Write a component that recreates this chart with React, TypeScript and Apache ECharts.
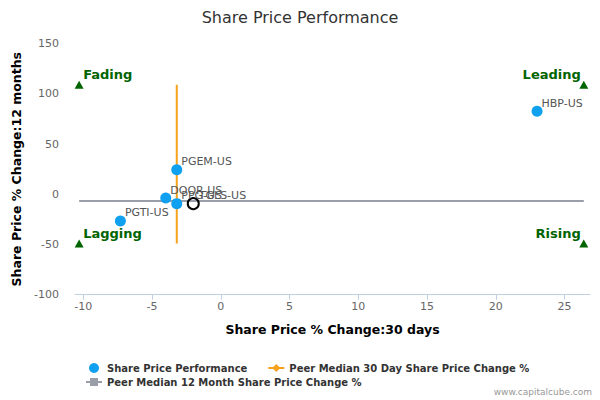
import { useEffect, useRef } from "react";
import * as echarts from "echarts";

// share price change, peers
const tickers = ["HBP-US", "PGEM-US", "DOOR-US", "PPG-US", "PGTI-US"];
const change30d = [23.0, -3.2, -4.0, -3.2, -7.3];
const change12m = [82.7, 24.5, -3.7, -9.3, -26.5];

// subject company (hollow marker)
const subjectTicker = "TGLS-US";
const subject30d = -2.0;
const subject12m = -9.3;

// peer medians
const median30d = -3.2;
const median30dSpan = [-49, 109];
const median12m = -6.6;
const median12mSpan = [-10.3, 26.4];

// quadrant markers
const quadrantNames = ["Fading", "Leading", "Lagging", "Rising"];
const quadrantX = [-10.3, 26.4, -10.3, 26.4];
const quadrantY = [109, 109, -49, -49];

const xTicks = [-10, -5, 0, 5, 10, 15, 20, 25];

const BLUE = "#0fa0ef";
const ORANGE = "#f7a21c";
const GRAY = "#9a9ea9";
const GREEN = "#006400";
const FONT = "DejaVu Sans";

export default function App() {
  const chartRef = useRef<HTMLDivElement>(null);

  useEffect(() => {
    if (!chartRef.current) return;
    const chart = echarts.init(chartRef.current, null, { renderer: "svg" });

    const pointLabel = {
      show: true,
      position: "right",
      offset: [-6, -8],
      fontSize: 11,
      color: "#555",
      fontFamily: FONT,
      formatter: (p: { name: string }) => p.name,
    };

    const legendText = { fontSize: 10, fontWeight: "bold", color: "#333", fontFamily: FONT };

    chart.setOption({
      animation: false,
      backgroundColor: "#fff",
      textStyle: { fontFamily: FONT },
      title: {
        text: "Share Price Performance",
        left: "center",
        top: 4,
        textStyle: { fontSize: 16, fontWeight: "normal", color: "#333", fontFamily: FONT },
      },
      grid: { left: 75, right: 10, top: 43.7, bottom: 105.3 },
      xAxis: {
        type: "value",
        min: -10.6,
        max: 26.85,
        name: "Share Price % Change:30 days",
        nameLocation: "middle",
        nameGap: 28,
        nameTextStyle: { fontSize: 12.5, fontWeight: "bold", color: "#000", fontFamily: FONT },
        axisLine: { show: true, onZero: false, lineStyle: { color: "#c0d0e0", width: 1 } },
        axisTick: { show: true, length: 5, customValues: xTicks, lineStyle: { color: "#c0d0e0" } },
        axisLabel: { customValues: xTicks, fontSize: 11, color: "#666", margin: 6, fontFamily: FONT },
        splitLine: { show: false },
      },
      yAxis: {
        type: "value",
        min: -100,
        max: 150,
        interval: 50,
        name: "Share Price % Change:12 months",
        nameLocation: "middle",
        nameGap: 43,
        nameTextStyle: { fontSize: 12.5, fontWeight: "bold", color: "#000", fontFamily: FONT },
        axisLine: { show: false },
        axisTick: { show: false },
        axisLabel: { fontSize: 11, color: "#666", margin: 16, fontFamily: FONT },
        splitLine: { show: false },
      },
      legend: [
        {
          data: ["Share Price Performance", "Peer Median 30 Day Share Price Change %"],
          left: 84,
          top: 358,
          itemWidth: 16,
          itemHeight: 10,
          itemGap: 20,
          textStyle: legendText,
        },
        {
          data: ["Peer Median 12 Month Share Price Change %"],
          left: 80,
          top: 372,
          itemWidth: 16,
          itemHeight: 10,
          textStyle: legendText,
        },
      ],
      graphic: [
        {
          type: "text",
          right: 8,
          bottom: 4,
          style: { text: "www.capitalcube.com", fontSize: 9, fill: "#999", fontFamily: FONT },
        },
      ],
      series: [
        {
          name: "Peer Median 12 Month Share Price Change %",
          type: "line",
          data: median12mSpan.map((x) => [x, median12m]),
          showSymbol: false,
          symbol: "rect",
          color: GRAY,
          lineStyle: { color: GRAY, width: 2 },
          z: 2,
        },
        {
          name: "Peer Median 30 Day Share Price Change %",
          type: "line",
          data: median30dSpan.map((y) => [median30d, y]),
          showSymbol: false,
          symbol: "diamond",
          color: ORANGE,
          lineStyle: { color: ORANGE, width: 2 },
          z: 3,
        },
        {
          name: "Share Price Performance",
          type: "scatter",
          symbol: "circle",
          symbolSize: 11,
          itemStyle: { color: BLUE, opacity: 1 },
          z: 5,
          label: pointLabel,
          data: [
            ...tickers.map((t, i) => ({ name: t, value: [change30d[i], change12m[i]] })),
            {
              name: subjectTicker,
              value: [subject30d, subject12m],
              symbolSize: 11,
              itemStyle: { color: "rgba(255,255,255,0)", borderColor: "#000", borderWidth: 2, opacity: 1 },
            },
          ],
        },
        {
          name: "quadrants",
          type: "scatter",
          symbol: "triangle",
          symbolSize: [9, 8],
          itemStyle: { color: GREEN, opacity: 1 },
          z: 4,
          data: quadrantNames.map((n, i) => {
            const isLeft = quadrantX[i] < 0;
            return {
              name: n,
              value: [quadrantX[i], quadrantY[i]],
              label: {
                show: true,
                position: "inside",
                align: isLeft ? "left" : "right",
                verticalAlign: "middle",
                offset: isLeft ? [4, -10] : [-3, -10],
                formatter: n,
                fontSize: 13,
                fontWeight: "bold",
                color: GREEN,
                fontFamily: FONT,
              },
            };
          }),
        },
      ],
    });

    return () => {
      chart.dispose();
    };
  }, []);

  return (
    <div
      ref={chartRef}
      style={{ position: "fixed", left: 0, top: 0, width: 600, height: 400 }}
    />
  );
}
